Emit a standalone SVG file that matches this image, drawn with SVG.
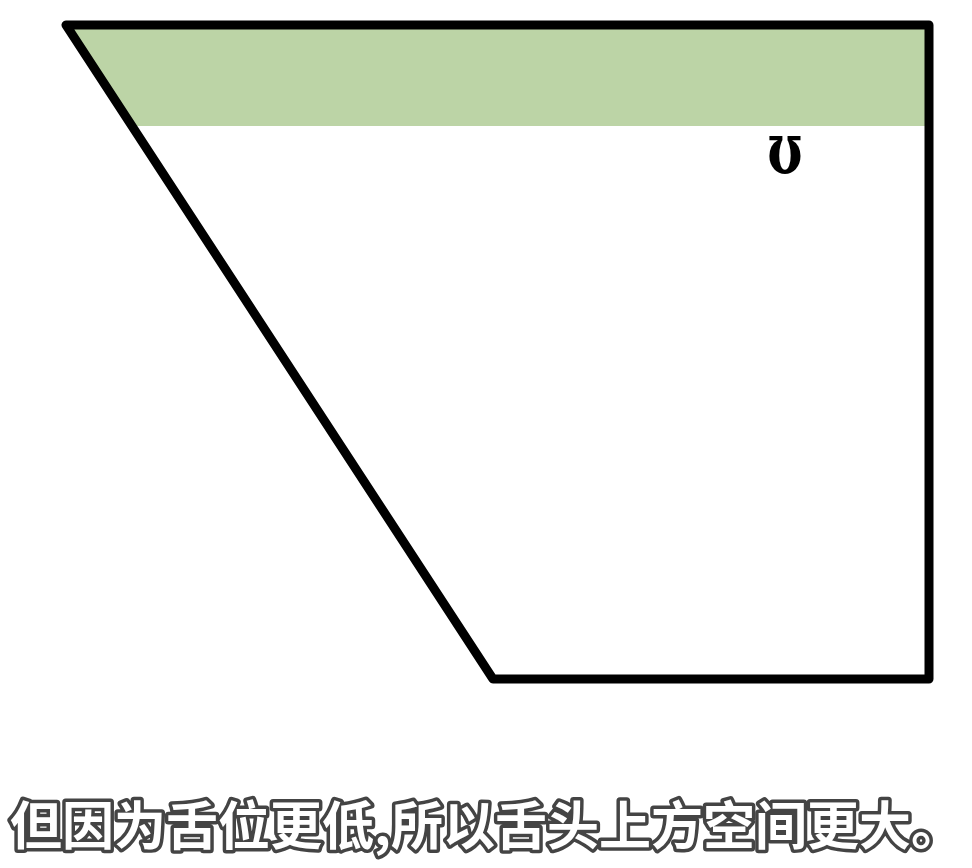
<svg xmlns="http://www.w3.org/2000/svg" width="972" height="868" viewBox="0 0 972 868">
  <style>
    .outline { fill: none; stroke: #000; stroke-width: 9; stroke-linejoin: round; }
    .band { fill: #bcd4a6; }
    .ipa { font-family: "DejaVu Serif", serif; font-weight: bold; font-size: 52px; fill: #000; text-anchor: middle; }
    .sub { font-family: "Noto Sans CJK SC", sans-serif; font-weight: bold; font-size: 52px; fill: #fff; stroke: #444; stroke-width: 7; paint-order: stroke; stroke-linejoin: round; }
  </style>
  <rect width="972" height="868" fill="#fff"/>
  <g id="band">
    <polygon class="band" points="66,25 929,25 929,126 132,126"/>
  </g>
  <g id="shape">
    <polygon class="outline" points="66,25 929,25 929,679 493,679"/>
  </g>
  <g id="symbol">
    <text class="ipa" transform="translate(785,173) scale(1,1.35)" x="0" y="0">ʊ</text>
  </g>
  <g id="subtitle">
    <text class="sub" x="10" y="845">但因为舌位更低,所以舌头上方空间更大。</text>
  </g>
</svg>
